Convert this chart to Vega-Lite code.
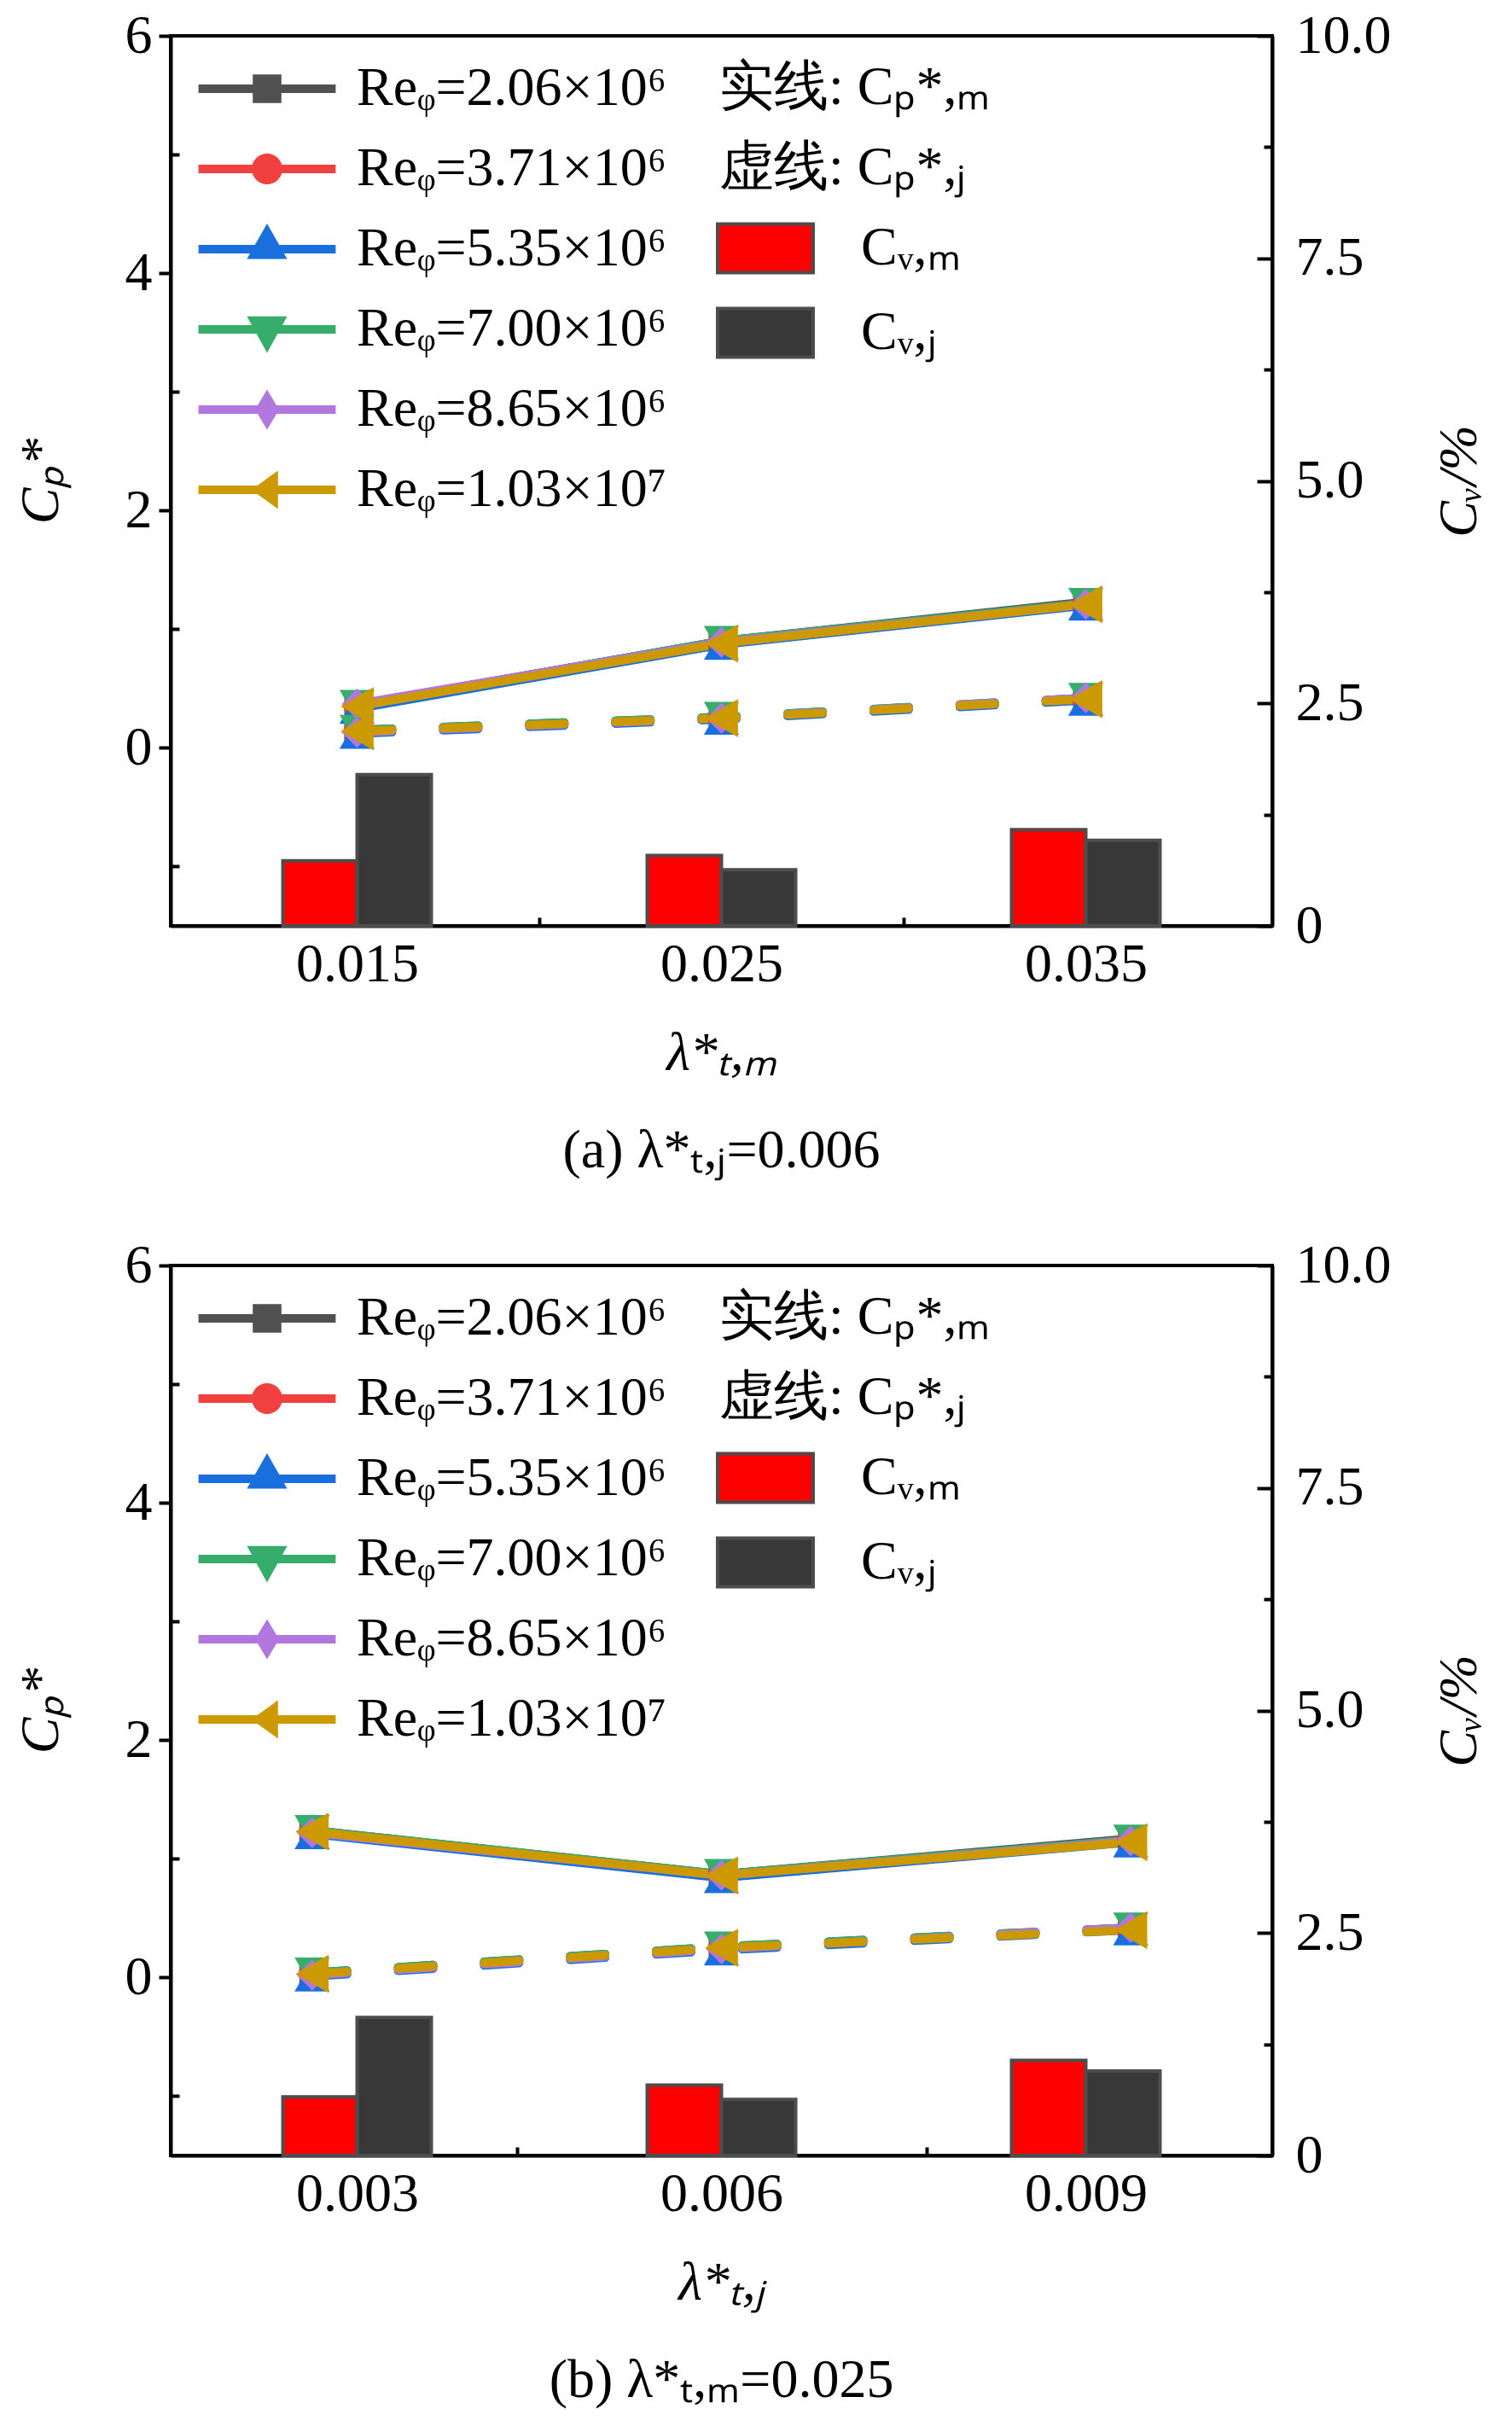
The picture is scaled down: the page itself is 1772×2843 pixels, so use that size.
{
  "$schema": "https://vega.github.io/schema/vega-lite/v6.json",
  "background": "white",
  "padding": {"left": 14, "top": 8, "right": 0, "bottom": 0},
  "spacing": 66,
  "config": {
    "font": "Liberation Serif",
    "view": {"stroke": "black", "strokeWidth": 4},
    "axis": {
      "labelFont": "Liberation Serif", "titleFont": "Liberation Serif",
      "labelFontSize": 64, "titleFontSize": 64, "titleFontWeight": "normal",
      "labelColor": "black", "titleColor": "black",
      "domainColor": "black", "domainWidth": 4,
      "tickColor": "black", "tickWidth": 4,
      "grid": false, "labelFlush": false, "labelOverlap": false
    },
    "legend": {"labelFont": "Liberation Serif", "labelFontSize": 64, "labelColor": "black", "padding": 0, "labelLimit": 0, "title": null},
    "title": {"font": "Liberation Serif", "fontSize": 64, "fontWeight": "normal", "color": "black"}
  },
  "datasets": {
    "lines": [
      {"panel": "a", "lam": 0.015, "Re": "2.06×10⁶", "kind": "m", "cp": 0.36},
      {"panel": "a", "lam": 0.025, "Re": "2.06×10⁶", "kind": "m", "cp": 0.90},
      {"panel": "a", "lam": 0.035, "Re": "2.06×10⁶", "kind": "m", "cp": 1.23},
      {"panel": "a", "lam": 0.015, "Re": "2.06×10⁶", "kind": "j", "cp": 0.15},
      {"panel": "a", "lam": 0.025, "Re": "2.06×10⁶", "kind": "j", "cp": 0.26},
      {"panel": "a", "lam": 0.035, "Re": "2.06×10⁶", "kind": "j", "cp": 0.42},
      {"panel": "a", "lam": 0.015, "Re": "3.71×10⁶", "kind": "m", "cp": 0.35},
      {"panel": "a", "lam": 0.025, "Re": "3.71×10⁶", "kind": "m", "cp": 0.89},
      {"panel": "a", "lam": 0.035, "Re": "3.71×10⁶", "kind": "m", "cp": 1.22},
      {"panel": "a", "lam": 0.015, "Re": "3.71×10⁶", "kind": "j", "cp": 0.14},
      {"panel": "a", "lam": 0.025, "Re": "3.71×10⁶", "kind": "j", "cp": 0.25},
      {"panel": "a", "lam": 0.035, "Re": "3.71×10⁶", "kind": "j", "cp": 0.41},
      {"panel": "a", "lam": 0.015, "Re": "5.35×10⁶", "kind": "m", "cp": 0.33},
      {"panel": "a", "lam": 0.025, "Re": "5.35×10⁶", "kind": "m", "cp": 0.87},
      {"panel": "a", "lam": 0.035, "Re": "5.35×10⁶", "kind": "m", "cp": 1.20},
      {"panel": "a", "lam": 0.015, "Re": "5.35×10⁶", "kind": "j", "cp": 0.12},
      {"panel": "a", "lam": 0.025, "Re": "5.35×10⁶", "kind": "j", "cp": 0.24},
      {"panel": "a", "lam": 0.035, "Re": "5.35×10⁶", "kind": "j", "cp": 0.40},
      {"panel": "a", "lam": 0.015, "Re": "7.00×10⁶", "kind": "m", "cp": 0.36},
      {"panel": "a", "lam": 0.025, "Re": "7.00×10⁶", "kind": "m", "cp": 0.90},
      {"panel": "a", "lam": 0.035, "Re": "7.00×10⁶", "kind": "m", "cp": 1.22},
      {"panel": "a", "lam": 0.015, "Re": "7.00×10⁶", "kind": "j", "cp": 0.15},
      {"panel": "a", "lam": 0.025, "Re": "7.00×10⁶", "kind": "j", "cp": 0.26},
      {"panel": "a", "lam": 0.035, "Re": "7.00×10⁶", "kind": "j", "cp": 0.42},
      {"panel": "a", "lam": 0.015, "Re": "8.65×10⁶", "kind": "m", "cp": 0.37},
      {"panel": "a", "lam": 0.025, "Re": "8.65×10⁶", "kind": "m", "cp": 0.89},
      {"panel": "a", "lam": 0.035, "Re": "8.65×10⁶", "kind": "m", "cp": 1.21},
      {"panel": "a", "lam": 0.015, "Re": "8.65×10⁶", "kind": "j", "cp": 0.13},
      {"panel": "a", "lam": 0.025, "Re": "8.65×10⁶", "kind": "j", "cp": 0.25},
      {"panel": "a", "lam": 0.035, "Re": "8.65×10⁶", "kind": "j", "cp": 0.42},
      {"panel": "a", "lam": 0.015, "Re": "1.03×10⁷", "kind": "m", "cp": 0.35},
      {"panel": "a", "lam": 0.025, "Re": "1.03×10⁷", "kind": "m", "cp": 0.88},
      {"panel": "a", "lam": 0.035, "Re": "1.03×10⁷", "kind": "m", "cp": 1.21},
      {"panel": "a", "lam": 0.015, "Re": "1.03×10⁷", "kind": "j", "cp": 0.14},
      {"panel": "a", "lam": 0.025, "Re": "1.03×10⁷", "kind": "j", "cp": 0.25},
      {"panel": "a", "lam": 0.035, "Re": "1.03×10⁷", "kind": "j", "cp": 0.41},
      {"panel": "b", "lam": 0.00263, "Re": "2.06×10⁶", "kind": "m", "cp": 1.24},
      {"panel": "b", "lam": 0.006, "Re": "2.06×10⁶", "kind": "m", "cp": 0.87},
      {"panel": "b", "lam": 0.00937, "Re": "2.06×10⁶", "kind": "m", "cp": 1.17},
      {"panel": "b", "lam": 0.00263, "Re": "2.06×10⁶", "kind": "j", "cp": 0.04},
      {"panel": "b", "lam": 0.006, "Re": "2.06×10⁶", "kind": "j", "cp": 0.26},
      {"panel": "b", "lam": 0.00937, "Re": "2.06×10⁶", "kind": "j", "cp": 0.42},
      {"panel": "b", "lam": 0.00263, "Re": "3.71×10⁶", "kind": "m", "cp": 1.23},
      {"panel": "b", "lam": 0.006, "Re": "3.71×10⁶", "kind": "m", "cp": 0.86},
      {"panel": "b", "lam": 0.00937, "Re": "3.71×10⁶", "kind": "m", "cp": 1.16},
      {"panel": "b", "lam": 0.00263, "Re": "3.71×10⁶", "kind": "j", "cp": 0.03},
      {"panel": "b", "lam": 0.006, "Re": "3.71×10⁶", "kind": "j", "cp": 0.25},
      {"panel": "b", "lam": 0.00937, "Re": "3.71×10⁶", "kind": "j", "cp": 0.41},
      {"panel": "b", "lam": 0.00263, "Re": "5.35×10⁶", "kind": "m", "cp": 1.21},
      {"panel": "b", "lam": 0.006, "Re": "5.35×10⁶", "kind": "m", "cp": 0.84},
      {"panel": "b", "lam": 0.00937, "Re": "5.35×10⁶", "kind": "m", "cp": 1.14},
      {"panel": "b", "lam": 0.00263, "Re": "5.35×10⁶", "kind": "j", "cp": 0.01},
      {"panel": "b", "lam": 0.006, "Re": "5.35×10⁶", "kind": "j", "cp": 0.23},
      {"panel": "b", "lam": 0.00937, "Re": "5.35×10⁶", "kind": "j", "cp": 0.40},
      {"panel": "b", "lam": 0.00263, "Re": "7.00×10⁶", "kind": "m", "cp": 1.24},
      {"panel": "b", "lam": 0.006, "Re": "7.00×10⁶", "kind": "m", "cp": 0.87},
      {"panel": "b", "lam": 0.00937, "Re": "7.00×10⁶", "kind": "m", "cp": 1.16},
      {"panel": "b", "lam": 0.00263, "Re": "7.00×10⁶", "kind": "j", "cp": 0.04},
      {"panel": "b", "lam": 0.006, "Re": "7.00×10⁶", "kind": "j", "cp": 0.26},
      {"panel": "b", "lam": 0.00937, "Re": "7.00×10⁶", "kind": "j", "cp": 0.42},
      {"panel": "b", "lam": 0.00263, "Re": "8.65×10⁶", "kind": "m", "cp": 1.22},
      {"panel": "b", "lam": 0.006, "Re": "8.65×10⁶", "kind": "m", "cp": 0.86},
      {"panel": "b", "lam": 0.00937, "Re": "8.65×10⁶", "kind": "m", "cp": 1.15},
      {"panel": "b", "lam": 0.00263, "Re": "8.65×10⁶", "kind": "j", "cp": 0.02},
      {"panel": "b", "lam": 0.006, "Re": "8.65×10⁶", "kind": "j", "cp": 0.24},
      {"panel": "b", "lam": 0.00937, "Re": "8.65×10⁶", "kind": "j", "cp": 0.42},
      {"panel": "b", "lam": 0.00263, "Re": "1.03×10⁷", "kind": "m", "cp": 1.23},
      {"panel": "b", "lam": 0.006, "Re": "1.03×10⁷", "kind": "m", "cp": 0.86},
      {"panel": "b", "lam": 0.00937, "Re": "1.03×10⁷", "kind": "m", "cp": 1.14},
      {"panel": "b", "lam": 0.00263, "Re": "1.03×10⁷", "kind": "j", "cp": 0.03},
      {"panel": "b", "lam": 0.006, "Re": "1.03×10⁷", "kind": "j", "cp": 0.25},
      {"panel": "b", "lam": 0.00937, "Re": "1.03×10⁷", "kind": "j", "cp": 0.40}
    ],
    "bars": [
      {"panel": "a", "lam": 0.015, "type": "m", "cv": 0.73},
      {"panel": "a", "lam": 0.015, "type": "j", "cv": 1.70},
      {"panel": "a", "lam": 0.025, "type": "m", "cv": 0.79},
      {"panel": "a", "lam": 0.025, "type": "j", "cv": 0.63},
      {"panel": "a", "lam": 0.035, "type": "m", "cv": 1.08},
      {"panel": "a", "lam": 0.035, "type": "j", "cv": 0.96},
      {"panel": "b", "lam": 0.003, "type": "m", "cv": 0.66},
      {"panel": "b", "lam": 0.003, "type": "j", "cv": 1.55},
      {"panel": "b", "lam": 0.006, "type": "m", "cv": 0.79},
      {"panel": "b", "lam": 0.006, "type": "j", "cv": 0.63},
      {"panel": "b", "lam": 0.009, "type": "m", "cv": 1.07},
      {"panel": "b", "lam": 0.009, "type": "j", "cv": 0.95}
    ]
  },
  "resolve": {
    "scale": {"x": "independent", "color": "independent", "fill": "independent", "strokeDash": "independent"},
    "legend": {"color": "independent", "fill": "independent"}
  },
  "vconcat": [
    {
      "width": 1291,
      "height": 1043,
      "title": {"text": "(a) λ*ₜ,ⱼ=0.006", "orient": "bottom", "offset": 51},
      "encoding": {
        "x": {
          "field": "lam", "type": "quantitative",
          "scale": {"domain": [0.01, 0.04], "nice": false, "zero": false},
          "axis": {
            "title": "λ*ₜ,ₘ", "titleFontStyle": "italic", "titlePadding": 32,
            "values": [0.015, 0.02, 0.025, 0.03, 0.035], "format": ".3f",
            "labelExpr": "round(datum.value*1000) % 10 == 0 ? '' : datum.label",
            "tickSize": {"condition": {"test": "round(datum.value*1000) % 10 == 0", "value": -10}, "value": -18},
            "labelPadding": 31
          }
        }
      },
      "layer": [
        {
          "data": {"name": "bars"},
          "transform": [{"filter": "datum.panel == 'a'"}],
          "mark": {"type": "bar", "size": 87, "stroke": "#4d4d4d", "strokeWidth": 4, "xOffset": {"expr": "datum.type == 'm' ? -43.5 : 43.5"}},
          "encoding": {
            "y": {
              "field": "cv", "type": "quantitative", "stack": null,
              "scale": {"domain": [0, 10], "nice": false},
              "axis": {
                "orient": "right", "title": "Cᵥ/%", "titleFontStyle": "italic", "titleAngle": 270, "titlePadding": 112,
                "values": [0, 1.25, 2.5, 3.75, 5, 6.25, 7.5, 8.75, 10],
                "labelExpr": "datum.value == 0 ? '0' : (datum.value % 2.5 == 0 ? format(datum.value, '.1f') : '')",
                "tickSize": {"condition": {"test": "datum.value % 2.5 != 0", "value": -10}, "value": -18},
                "labelPadding": 45
              }
            },
            "fill": {
              "field": "type", "type": "nominal",
              "scale": {"domain": ["s", "d", "m", "j"], "range": ["transparent", "transparent", "#ff0000", "#383838"]},
              "legend": {
                "orient": "none", "legendX": 655, "legendY": 19,
                "symbolType": "M-1.4,-0.71H1.4V0.71H-1.4Z", "symbolSize": 6400,
                "symbolStrokeColor": "#4d4d4d", "symbolStrokeWidth": 4, "symbolOpacity": 1,
                "labelOffset": 70, "rowPadding": 20,
                "labelExpr": "datum.value == 's' ? '实线: Cₚ*,ₘ' : datum.value == 'd' ? '虚线: Cₚ*,ⱼ' : datum.value == 'm' ? 'Cᵥ,ₘ' : 'Cᵥ,ⱼ'",
                "encode": {
                  "symbols": {"update": {"opacity": {"signal": "indexof(['s','d'], datum.value) >= 0 ? 0 : 1"}}},
                  "labels": {"update": {"dx": {"signal": "indexof(['s','d'], datum.value) >= 0 ? -166 : 0"}}}
                }
              }
            }
          }
        },
        {
          "data": {"name": "lines"},
          "transform": [{"filter": "datum.panel == 'a'"}],
          "encoding": {
            "y": {
              "field": "cp", "type": "quantitative",
              "scale": {"domain": [-1.5, 6], "nice": false, "zero": false},
              "axis": {
                "orient": "left", "title": "Cₚ*", "titleFontStyle": "italic", "titlePadding": 66,
                "values": [-1, 0, 1, 2, 3, 4, 5, 6],
                "labelExpr": "datum.value % 2 == 0 ? datum.label : ''",
                "tickSize": {"condition": {"test": "datum.value % 2 != 0", "value": -10}, "value": 14},
                "labelPadding": 8
              }
            },
            "color": {
              "field": "Re", "type": "nominal",
              "scale": {"domain": ["2.06×10⁶", "3.71×10⁶", "5.35×10⁶", "7.00×10⁶", "8.65×10⁶", "1.03×10⁷"], "range": ["#515151", "#F14040", "#1A6FDF", "#37AD6B", "#B177DE", "#CC9900"]},
              "legend": {
                "orient": "none", "legendX": 73, "legendY": 22,
                "symbolSize": 6400, "symbolStrokeWidth": 0,
                "labelOffset": 65, "rowPadding": 22,
                "labelExpr": "'Reᵩ=' + datum.label",
                "encode": {
                  "symbols": {"update": {
                    "shape": {"signal": "['M-2.01,-0.125H2.01V0.125H-2.01ZM-0.42,-0.42H0.42V0.42H-0.42Z','M-2.01,-0.125H2.01V0.125H-2.01ZM-0.45,0A0.45,0.45,0,1,1,0.45,0A0.45,0.45,0,1,1,-0.45,0Z','M-2.01,-0.125H2.01V0.125H-2.01ZM0,-0.75L0.59,0.29H-0.59Z','M-2.01,-0.125H2.01V0.125H-2.01ZM-0.59,-0.38H0.59L0,0.69Z','M-2.01,-0.125H2.01V0.125H-2.01ZM0,-0.59L0.35,0L0,0.59L-0.35,0Z','M-2.01,-0.125H2.01V0.125H-2.01ZM-0.46,0L0.32,-0.56V0.56Z'][indexof(['2.06×10⁶','3.71×10⁶','5.35×10⁶','7.00×10⁶','8.65×10⁶','1.03×10⁷'], datum.value)]"},
                    "fill": {"signal": "['#515151','#F14040','#1A6FDF','#37AD6B','#B177DE','#CC9900'][indexof(['2.06×10⁶','3.71×10⁶','5.35×10⁶','7.00×10⁶','8.65×10⁶','1.03×10⁷'], datum.value)]"},
                    "stroke": {"value": "transparent"},
                    "strokeWidth": {"value": 0},
                    "opacity": {"value": 1}
                  }}
                }
              }
            }
          },
          "layer": [
            {
              "mark": {"type": "line", "strokeWidth": 10, "strokeCap": "round"},
              "encoding": {
                "strokeDash": {"field": "kind", "type": "nominal", "scale": {"domain": ["m", "j"], "range": [[1, 0], [41, 60]]}, "legend": null}
              }
            },
            {
              "mark": {
                "type": "point", "filled": true, "opacity": 1,
                "shape": {"expr": "['square','circle','triangle-up','triangle-down','diamond','triangle-left'][indexof(['2.06×10⁶','3.71×10⁶','5.35×10⁶','7.00×10⁶','8.65×10⁶','1.03×10⁷'], datum.Re)]"},
                "size": {"expr": "[900,1000,1700,1700,1300,2000][indexof(['2.06×10⁶','3.71×10⁶','5.35×10⁶','7.00×10⁶','8.65×10⁶','1.03×10⁷'], datum.Re)]"}
              }
            }
          ]
        }
      ],
      "resolve": {"scale": {"y": "independent"}}
    },
    {
      "width": 1291,
      "height": 1043,
      "title": {"text": "(b) λ*ₜ,ₘ=0.025", "orient": "bottom", "offset": 51},
      "encoding": {
        "x": {
          "field": "lam", "type": "quantitative",
          "scale": {"domain": [0.0015, 0.0105], "nice": false, "zero": false},
          "axis": {
            "title": "λ*ₜ,ⱼ", "titleFontStyle": "italic", "titlePadding": 32,
            "values": [0.003, 0.00432, 0.006, 0.00769, 0.009], "format": ".3f",
            "labelExpr": "datum.value == 0.00432 || datum.value == 0.00769 ? '' : datum.label",
            "tickSize": {"condition": {"test": "datum.value == 0.00432 || datum.value == 0.00769", "value": -10}, "value": -18},
            "labelPadding": 31
          }
        }
      },
      "layer": [
        {
          "data": {"name": "bars"},
          "transform": [{"filter": "datum.panel == 'b'"}],
          "mark": {"type": "bar", "size": 87, "stroke": "#4d4d4d", "strokeWidth": 4, "xOffset": {"expr": "datum.type == 'm' ? -43.5 : 43.5"}},
          "encoding": {
            "y": {
              "field": "cv", "type": "quantitative", "stack": null,
              "scale": {"domain": [0, 10], "nice": false},
              "axis": {
                "orient": "right", "title": "Cᵥ/%", "titleFontStyle": "italic", "titleAngle": 270, "titlePadding": 112,
                "values": [0, 1.25, 2.5, 3.75, 5, 6.25, 7.5, 8.75, 10],
                "labelExpr": "datum.value == 0 ? '0' : (datum.value % 2.5 == 0 ? format(datum.value, '.1f') : '')",
                "tickSize": {"condition": {"test": "datum.value % 2.5 != 0", "value": -10}, "value": -18},
                "labelPadding": 45
              }
            },
            "fill": {
              "field": "type", "type": "nominal",
              "scale": {"domain": ["s", "d", "m", "j"], "range": ["transparent", "transparent", "#ff0000", "#383838"]},
              "legend": {
                "orient": "none", "legendX": 655, "legendY": 19,
                "symbolType": "M-1.4,-0.71H1.4V0.71H-1.4Z", "symbolSize": 6400,
                "symbolStrokeColor": "#4d4d4d", "symbolStrokeWidth": 4, "symbolOpacity": 1,
                "labelOffset": 70, "rowPadding": 20,
                "labelExpr": "datum.value == 's' ? '实线: Cₚ*,ₘ' : datum.value == 'd' ? '虚线: Cₚ*,ⱼ' : datum.value == 'm' ? 'Cᵥ,ₘ' : 'Cᵥ,ⱼ'",
                "encode": {
                  "symbols": {"update": {"opacity": {"signal": "indexof(['s','d'], datum.value) >= 0 ? 0 : 1"}}},
                  "labels": {"update": {"dx": {"signal": "indexof(['s','d'], datum.value) >= 0 ? -166 : 0"}}}
                }
              }
            }
          }
        },
        {
          "data": {"name": "lines"},
          "transform": [{"filter": "datum.panel == 'b'"}],
          "encoding": {
            "y": {
              "field": "cp", "type": "quantitative",
              "scale": {"domain": [-1.5, 6], "nice": false, "zero": false},
              "axis": {
                "orient": "left", "title": "Cₚ*", "titleFontStyle": "italic", "titlePadding": 66,
                "values": [-1, 0, 1, 2, 3, 4, 5, 6],
                "labelExpr": "datum.value % 2 == 0 ? datum.label : ''",
                "tickSize": {"condition": {"test": "datum.value % 2 != 0", "value": -10}, "value": 14},
                "labelPadding": 8
              }
            },
            "color": {
              "field": "Re", "type": "nominal",
              "scale": {"domain": ["2.06×10⁶", "3.71×10⁶", "5.35×10⁶", "7.00×10⁶", "8.65×10⁶", "1.03×10⁷"], "range": ["#515151", "#F14040", "#1A6FDF", "#37AD6B", "#B177DE", "#CC9900"]},
              "legend": {
                "orient": "none", "legendX": 73, "legendY": 22,
                "symbolSize": 6400, "symbolStrokeWidth": 0,
                "labelOffset": 65, "rowPadding": 22,
                "labelExpr": "'Reᵩ=' + datum.label",
                "encode": {
                  "symbols": {"update": {
                    "shape": {"signal": "['M-2.01,-0.125H2.01V0.125H-2.01ZM-0.42,-0.42H0.42V0.42H-0.42Z','M-2.01,-0.125H2.01V0.125H-2.01ZM-0.45,0A0.45,0.45,0,1,1,0.45,0A0.45,0.45,0,1,1,-0.45,0Z','M-2.01,-0.125H2.01V0.125H-2.01ZM0,-0.75L0.59,0.29H-0.59Z','M-2.01,-0.125H2.01V0.125H-2.01ZM-0.59,-0.38H0.59L0,0.69Z','M-2.01,-0.125H2.01V0.125H-2.01ZM0,-0.59L0.35,0L0,0.59L-0.35,0Z','M-2.01,-0.125H2.01V0.125H-2.01ZM-0.46,0L0.32,-0.56V0.56Z'][indexof(['2.06×10⁶','3.71×10⁶','5.35×10⁶','7.00×10⁶','8.65×10⁶','1.03×10⁷'], datum.value)]"},
                    "fill": {"signal": "['#515151','#F14040','#1A6FDF','#37AD6B','#B177DE','#CC9900'][indexof(['2.06×10⁶','3.71×10⁶','5.35×10⁶','7.00×10⁶','8.65×10⁶','1.03×10⁷'], datum.value)]"},
                    "stroke": {"value": "transparent"},
                    "strokeWidth": {"value": 0},
                    "opacity": {"value": 1}
                  }}
                }
              }
            }
          },
          "layer": [
            {
              "mark": {"type": "line", "strokeWidth": 10, "strokeCap": "round"},
              "encoding": {
                "strokeDash": {"field": "kind", "type": "nominal", "scale": {"domain": ["m", "j"], "range": [[1, 0], [41, 60]]}, "legend": null}
              }
            },
            {
              "mark": {
                "type": "point", "filled": true, "opacity": 1,
                "shape": {"expr": "['square','circle','triangle-up','triangle-down','diamond','triangle-left'][indexof(['2.06×10⁶','3.71×10⁶','5.35×10⁶','7.00×10⁶','8.65×10⁶','1.03×10⁷'], datum.Re)]"},
                "size": {"expr": "[900,1000,1700,1700,1300,2000][indexof(['2.06×10⁶','3.71×10⁶','5.35×10⁶','7.00×10⁶','8.65×10⁶','1.03×10⁷'], datum.Re)]"}
              }
            }
          ]
        }
      ],
      "resolve": {"scale": {"y": "independent"}}
    }
  ]
}
